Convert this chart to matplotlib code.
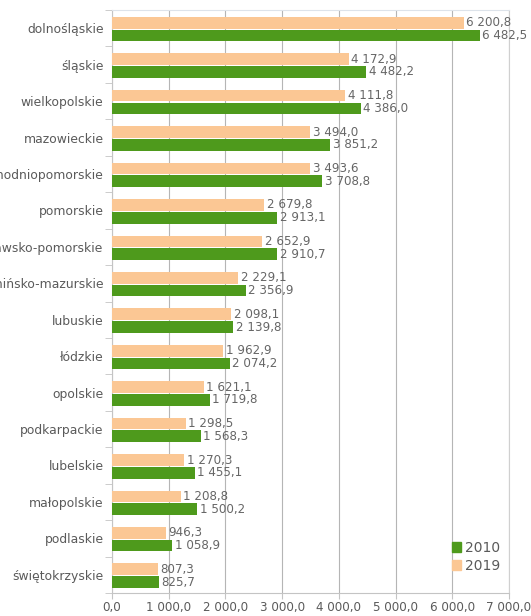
import numpy as np
import matplotlib.pyplot as plt
from matplotlib.patches import Patch

# dane
regiony = ['dolnośląskie', 'śląskie', 'wielkopolskie', 'mazowieckie', 'zachodniopomorskie',
           'pomorskie', 'kujawsko-pomorskie', 'warmińsko-mazurskie', 'lubuskie', 'łódzkie',
           'opolskie', 'podkarpackie', 'lubelskie', 'małopolskie', 'podlaskie', 'świętokrzyskie']
v2019 = [6200.8, 4172.9, 4111.8, 3494.0, 3493.6, 2679.8, 2652.9, 2229.1, 2098.1, 1962.9,
         1621.1, 1298.5, 1270.3, 1208.8, 946.3, 807.3]
v2010 = [6482.5, 4482.2, 4386.0, 3851.2, 3708.8, 2913.1, 2910.7, 2356.9, 2139.8, 2074.2,
         1719.8, 1568.3, 1455.1, 1500.2, 1058.9, 825.7]
xticks = [0, 1000, 2000, 3000, 4000, 5000, 6000, 7000]

c2010 = '#4e9a1c'
c2019 = '#fbc794'
szary = '#5a5a5a'
linia = '#c4c4c4'


def fmt(v):
    s = f'{v:,.1f}'.replace(',', ' ').replace('.', ',')
    return s


fig = plt.figure(figsize=(5.31, 6.16), dpi=100)
ax = fig.add_axes([112 / 531, 23 / 616, (509 - 112) / 531, (606 - 23) / 616])

y = np.arange(len(regiony))
h = 0.32
y19 = y - h / 2 + 0.01
y10 = y + h / 2 + 0.04
ax.barh(y19, v2019, height=h, color=c2019, zorder=3)
ax.barh(y10, v2010, height=h, color=c2010, zorder=3)

for i in range(len(regiony)):
    ax.text(v2019[i] + 45, y19[i], fmt(v2019[i]), va='center', ha='left',
            fontsize=8.6, color='#666666', zorder=4)
    ax.text(v2010[i] + 45, y10[i], fmt(v2010[i]), va='center', ha='left',
            fontsize=8.6, color='#666666', zorder=4)

ax.set_xlim(0, 7000)
ax.set_ylim(len(regiony) - 0.5, -0.5)
ax.set_xticks(xticks)
ax.set_xticklabels([fmt(t) for t in xticks], fontsize=8.6, color=szary)
ax.set_yticks(y)
ax.set_yticklabels(regiony, fontsize=8.9, color=szary)
ax.set_yticks(np.arange(-0.5, len(regiony)), minor=True)
ax.tick_params(axis='y', which='major', length=0, pad=6)
ax.tick_params(axis='y', which='minor', length=5, color=linia)
ax.tick_params(axis='x', length=4, color=linia, pad=1.5)

ax.grid(axis='x', color='#b5b5b5', linewidth=0.8, zorder=0)
for s in ax.spines.values():
    s.set_color(linia)
    s.set_linewidth(0.8)
ax.spines['top'].set_color('#dde3ea')
ax.spines['right'].set_color('#d0d0d0')

uchwyty = [Patch(color=c2010, label='2010'), Patch(color=c2019, label='2019')]
leg = ax.legend(handles=uchwyty, loc='lower right', bbox_to_anchor=(1.0, 0.02),
                frameon=False, fontsize=10, handlelength=0.7, handleheight=0.7,
                handletextpad=0.3, labelspacing=0.3, borderaxespad=0.2)
for t in leg.get_texts():
    t.set_color(szary)

fig.savefig('out.png', dpi=100)
